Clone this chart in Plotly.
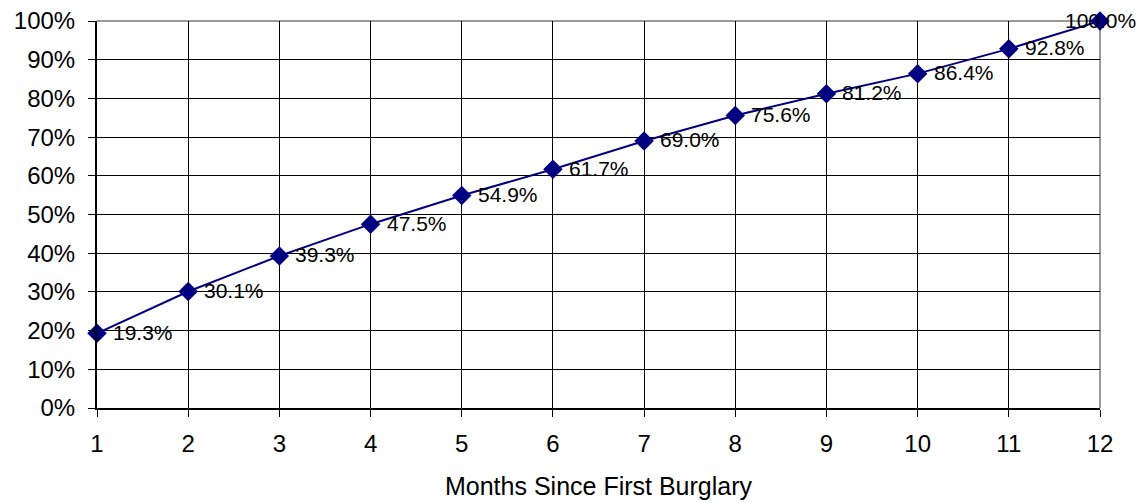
import plotly.graph_objects as go

months = [1, 2, 3, 4, 5, 6, 7, 8, 9, 10, 11, 12]
cumulative_pct = [19.3, 30.1, 39.3, 47.5, 54.9, 61.7, 69.0, 75.6, 81.2, 86.4, 92.8, 100.0]
y_ticks = [0, 10, 20, 30, 40, 50, 60, 70, 80, 90, 100]
y_tick_labels = [f"{v}%" for v in y_ticks]
x_title = "Months Since First Burglary"

FONT = "Liberation Sans, Arial, sans-serif"
NAVY = "#000080"

fig = go.Figure()
fig.add_trace(go.Scatter(
    x=months,
    y=cumulative_pct,
    mode="lines+markers",
    line=dict(color=NAVY, width=2),
    marker=dict(symbol="diamond", size=15, color=NAVY),
    cliponaxis=False,
    showlegend=False,
))

# value labels: to the right of each point, the last one centred on its point
annotations = []
for i, (m, v) in enumerate(zip(months, cumulative_pct)):
    last = i == len(months) - 1
    annotations.append(dict(
        x=m, y=v, xref="x", yref="y",
        text=f"{v:.1f}%",
        showarrow=False,
        xanchor="center" if last else "left",
        yanchor="middle",
        xshift=0 if last else 14,
        yshift=1,
        font=dict(family=FONT, size=21, color="black"),
    ))

fig.update_layout(
    width=1142,
    height=503,
    margin=dict(l=97, r=42, t=21, b=95),
    paper_bgcolor="white",
    plot_bgcolor="white",
    font=dict(family=FONT, color="black"),
    annotations=annotations,
    xaxis=dict(
        range=[1, 12],
        tickvals=months,
        ticks="outside",
        ticklen=7,
        tickcolor="black",
        showgrid=True,
        gridcolor="black",
        gridwidth=1,
        showline=True,
        linecolor="black",
        linewidth=2,
        zeroline=False,
        automargin=False,
        tickfont=dict(size=24),
        ticklabelstandoff=6,
        title=dict(text=x_title, font=dict(size=25), standoff=22),
    ),
    yaxis=dict(
        range=[0, 100],
        tickvals=y_ticks,
        ticktext=y_tick_labels,
        ticks="outside",
        ticklen=7,
        tickcolor="black",
        showgrid=True,
        gridcolor="black",
        gridwidth=1,
        showline=True,
        linecolor="black",
        linewidth=2,
        zeroline=False,
        automargin=False,
        tickfont=dict(size=24),
        ticklabelstandoff=8,
    ),
    shapes=[
        dict(type="line", xref="paper", yref="paper", x0=0, x1=1, y0=1, y1=1,
             line=dict(color="#999999", width=2), layer="below"),
        dict(type="line", xref="paper", yref="paper", x0=1, x1=1, y0=0, y1=1,
             line=dict(color="#999999", width=2), layer="below"),
    ],
)

fig.write_html("out.html")
